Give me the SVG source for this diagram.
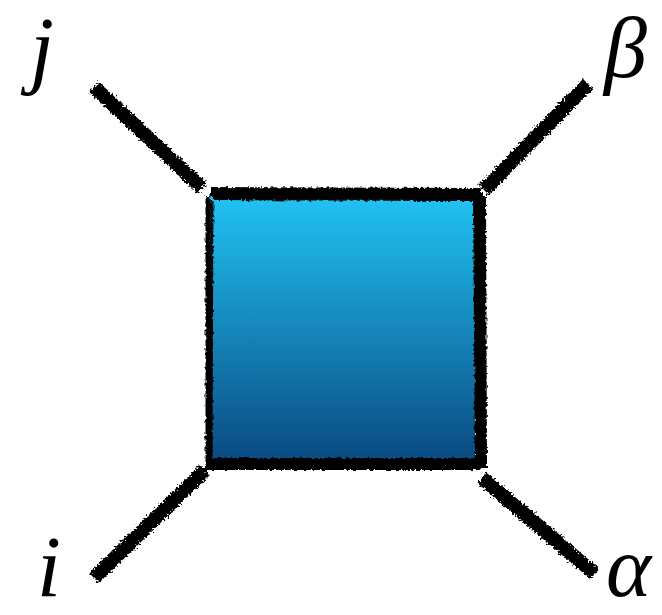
<svg xmlns="http://www.w3.org/2000/svg" width="662" height="615" viewBox="0 0 662 615">
<style>
.leg{stroke:#000;stroke-width:14;stroke-linecap:butt;fill:none}
.edge{stroke:#000;fill:none}
.lbl{font-family:"Liberation Serif","Times New Roman",serif;font-style:italic;font-size:86px;fill:#000}
</style>
<defs>
<linearGradient id="fill" x1="0" y1="0" x2="0" y2="1">
<stop offset="0" stop-color="#21c4f4"/>
<stop offset="1" stop-color="#0a4b83"/>
</linearGradient>
<filter id="rough" x="-10%" y="-10%" width="120%" height="120%">
<feTurbulence type="fractalNoise" baseFrequency="0.5" numOctaves="2" seed="3" result="n"/>
<feDisplacementMap in="SourceGraphic" in2="n" scale="8" xChannelSelector="R" yChannelSelector="G"/>
</filter>
<filter id="rough2" x="-10%" y="-10%" width="120%" height="120%">
<feTurbulence type="fractalNoise" baseFrequency="0.3" numOctaves="2" seed="5" result="n"/>
<feDisplacementMap in="SourceGraphic" in2="n" scale="4" xChannelSelector="R" yChannelSelector="G"/>
</filter>
</defs>
<rect width="662" height="615" fill="#fff"/>
<g id="connectors" filter="url(#rough)">
<line class="leg" x1="94" y1="87" x2="202" y2="188"/>
<line class="leg" x1="588" y1="84" x2="484" y2="190"/>
<line class="leg" x1="94" y1="578" x2="205" y2="470"/>
<line class="leg" x1="482" y1="478" x2="595" y2="574"/>
</g>
<g id="box">
<rect x="209" y="194" width="266" height="265" fill="url(#fill)"/>
<g filter="url(#rough2)">
<path class="edge" stroke-width="10" d="M210 192 L480 193"/>
<path class="edge" stroke-width="4" d="M214 198 L474 199"/>
<path class="edge" stroke-width="10" d="M478 192 L480 466"/>
<path class="edge" stroke-width="4" d="M484 196 L485 468"/>
<path class="edge" stroke-width="10" d="M207 463 L484 463"/>
<path class="edge" stroke-width="4" d="M205 468 L480 468"/>
<path class="edge" stroke-width="5" d="M208 196 L208 466"/>
<path class="edge" stroke-width="3" d="M212 200 L211 460"/>
</g>
</g>
<g id="label-j"><text class="lbl" x="30" y="77">j</text></g>
<g id="label-beta"><text class="lbl" x="604" y="77">β</text></g>
<g id="label-i"><text class="lbl" x="37" y="596">i</text></g>
<g id="label-alpha"><text class="lbl" x="606" y="596">α</text></g>
</svg>
